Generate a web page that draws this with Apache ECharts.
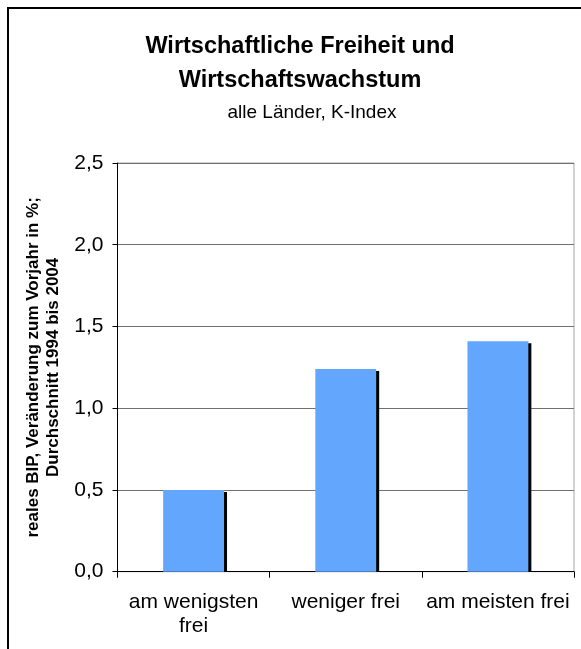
<!DOCTYPE html>
<html>
<head>
<meta charset="utf-8">
<script src="https://cdn.jsdelivr.net/npm/echarts@6/dist/echarts.min.js"></script>
<style>
html,body{margin:0;padding:0;background:#fff;}
#chart{width:581px;height:649px;}
</style>
</head>
<body>
<div id="chart"></div>
<script>
var categories = ['am wenigsten\nfrei', 'weniger frei', 'am meisten frei'];
var growthValues = [0.50, 1.24, 1.41];
var yTicks = { min: 0, max: 2.5, interval: 0.5 };
var titleText = 'Wirtschaftliche Freiheit und\nWirtschaftswachstum';
var subtitleText = 'alle Länder, K-Index';
var yAxisName = 'reales BIP, Veränderung zum Vorjahr in %;\nDurchschnitt 1994 bis 2004';

var chart = echarts.init(document.getElementById('chart'), null, { renderer: 'canvas' });
var FONT = '"Liberation Sans", Arial, sans-serif';
var BAR_RATIO = 0.4;
chart.setOption({
  animation: false,
  backgroundColor: '#ffffff',
  textStyle: { fontFamily: FONT, color: '#000' },
  graphic: [{
    type: 'rect',
    shape: { x: 8, y: 8, width: 700, height: 800 },
    style: { fill: 'none', stroke: '#000', lineWidth: 2 },
    silent: true
  }],
  title: [{
    text: titleText,
    left: 300,
    textAlign: 'center',
    top: 30,
    padding: 0,
    textStyle: { fontFamily: FONT, fontSize: 23.5, fontWeight: 'bold', color: '#000', lineHeight: 34, align: 'center' }
  }, {
    text: subtitleText,
    left: 312,
    textAlign: 'center',
    top: 101,
    padding: 0,
    textStyle: { fontFamily: FONT, fontSize: 19, fontWeight: 'normal', color: '#000', lineHeight: 24 }
  }],
  grid: {
    left: 117.5, right: 7, top: 163, bottom: 77.3,
    show: true, borderColor: '#a6a6a6', borderWidth: 1, backgroundColor: 'transparent'
  },
  xAxis: {
    type: 'category',
    data: categories,
    axisLine: { lineStyle: { color: '#000', width: 1 } },
    axisTick: { show: true, length: 6, lineStyle: { color: '#000' } },
    axisLabel: { fontFamily: FONT, fontSize: 21, color: '#000', margin: 19, lineHeight: 24, interval: 0 }
  },
  yAxis: {
    type: 'value',
    min: yTicks.min, max: yTicks.max, interval: yTicks.interval,
    name: yAxisName,
    nameLocation: 'middle',
    nameRotate: 90,
    nameGap: 52,
    nameTextStyle: { fontFamily: FONT, fontSize: 17, fontWeight: 'bold', color: '#000', lineHeight: 20, align: 'center' },
    axisLine: { show: true, lineStyle: { color: '#000', width: 1 } },
    axisTick: { show: true, length: 5, lineStyle: { color: '#000' } },
    axisLabel: {
      fontFamily: FONT, fontSize: 21, color: '#000', margin: 14,
      formatter: function (v) { return v.toFixed(1).replace('.', ','); }
    },
    splitLine: { show: true, lineStyle: { color: '#707070', width: 1 } }
  },
  series: [{
    type: 'custom',
    data: growthValues.map(function (v, i) { return [i, v]; }),
    encode: { x: 0, y: 1 },
    renderItem: function (params, api) {
      var top = api.coord([api.value(0), api.value(1)]);
      var base = api.coord([api.value(0), 0]);
      var bw = api.size([1, 0])[0] * BAR_RATIO;
      var h = base[1] - top[1];
      return {
        type: 'group',
        children: [{
          type: 'rect',
          shape: { x: top[0] - bw / 2 + 3, y: top[1] + 2, width: bw, height: h - 2 },
          style: { fill: '#000' }
        }, {
          type: 'rect',
          shape: { x: top[0] - bw / 2, y: top[1], width: bw, height: h },
          style: { fill: '#62A6FE' }
        }]
      };
    }
  }]
});
</script>
</body>
</html>
